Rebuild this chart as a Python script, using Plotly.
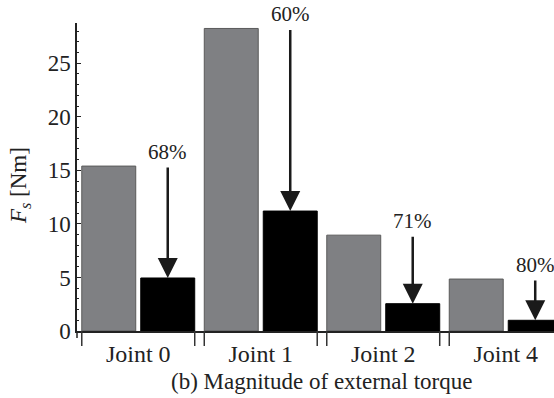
import plotly.graph_objects as go

categories = ["Joint 0", "Joint 1", "Joint 2", "Joint 4"]
original_torque = [15.4, 28.25, 8.95, 4.85]
reduced_torque = [4.95, 11.2, 2.55, 1.0]
reduction_labels = ["68%", "60%", "71%", "80%"]
y_ticks = [0, 5, 10, 15, 20, 25]

FONT = "Liberation Serif"
W, H = 554, 398
ML, MT, MB = 77, 23, 67
plot_h = H - MT - MB
BARGAP = 0.037
BARGROUPGAP = 0.085
XR = [-0.5, 3.394]
YR = [0, 28.76]

fig = go.Figure()
fig.add_trace(go.Bar(x=categories, y=original_torque,
                     marker=dict(color="#7f8083", line=dict(color="#5a5a5a", width=1))))
fig.add_trace(go.Bar(x=categories, y=reduced_torque,
                     marker=dict(color="#000000", line=dict(color="#000000", width=1))))

slot = (1 - BARGAP) / 2
black_off = slot / 2
edge_off = slot * (1 - BARGROUPGAP / 2)

def px(v):
    return (v - XR[0]) / (XR[1] - XR[0])

shapes = []
for i in range(len(categories)):
    for e in (i - edge_off, i + edge_off):
        p = px(e)
        if 0 <= p <= 1:
            shapes.append(dict(type="line", xref="paper", yref="paper",
                               x0=p, x1=p, y0=0, y1=-15 / plot_h,
                               line=dict(color="#333333", width=1.5)))
shapes.append(dict(type="line", xref="paper", yref="paper", x0=0, x1=0,
                   y0=0, y1=-7 / plot_h, line=dict(color="#222222", width=1.5)))

annotations = []
for i, lab in enumerate(reduction_labels):
    xc = i + black_off
    annotations.append(dict(x=xc, y=reduced_torque[i], ax=xc, ay=original_torque[i],
                            xref="x", yref="y", axref="x", ayref="y", text="",
                            showarrow=True, arrowhead=2, arrowsize=1.6, arrowwidth=2.5,
                            arrowcolor="#1a1a1a", standoff=0))
    annotations.append(dict(x=xc, y=original_torque[i], xref="x", yref="y", text=lab,
                            showarrow=False, yanchor="middle", yshift=14,
                            font=dict(family=FONT, size=21, color="#222222")))

annotations.append(dict(x=(20 - ML) / (W - ML), y=(H - MB - 186) / plot_h,
                        xref="paper", yref="paper", text="<i>F<sub>s</sub></i> [Nm]",
                        textangle=-90, showarrow=False, xanchor="center", yanchor="middle",
                        font=dict(family=FONT, size=23, color="#222222")))
annotations.append(dict(x=(321 - ML) / (W - ML), y=-(381 - (H - MB)) / plot_h,
                        xref="paper", yref="paper", text="(b) Magnitude of external torque",
                        showarrow=False, xanchor="center", yanchor="middle",
                        font=dict(family=FONT, size=23, color="#222222")))

fig.update_layout(
    template="none",
    width=W, height=H,
    margin=dict(l=ML, r=0, t=MT, b=MB, autoexpand=False),
    paper_bgcolor="white", plot_bgcolor="white",
    barmode="group", bargap=BARGAP, bargroupgap=BARGROUPGAP,
    showlegend=False,
    shapes=shapes, annotations=annotations,
    font=dict(family=FONT, size=23, color="#222222"),
)
fig.update_xaxes(range=XR, showline=True, linecolor="#222222", linewidth=1.5,
                 ticks="", showgrid=False, zeroline=False, automargin=False,
                 tickfont=dict(family=FONT, size=24, color="#222222"))
fig.update_yaxes(range=YR, tickvals=y_ticks, showline=True, linecolor="#222222", linewidth=1.5,
                 ticks="inside", ticklen=4, tickwidth=1.2, tickcolor="#222222",
                 minor=dict(dtick=1, ticks="inside", ticklen=2, tickcolor="#222222", tickwidth=1),
                 showgrid=False, zeroline=False, automargin=False,
                 tickfont=dict(family=FONT, size=23, color="#222222"))

fig.write_html("out.html",
               config={"displayModeBar": False},
               post_script="document.body.style.margin='0px';"
                           "document.documentElement.style.overflow='hidden';")
